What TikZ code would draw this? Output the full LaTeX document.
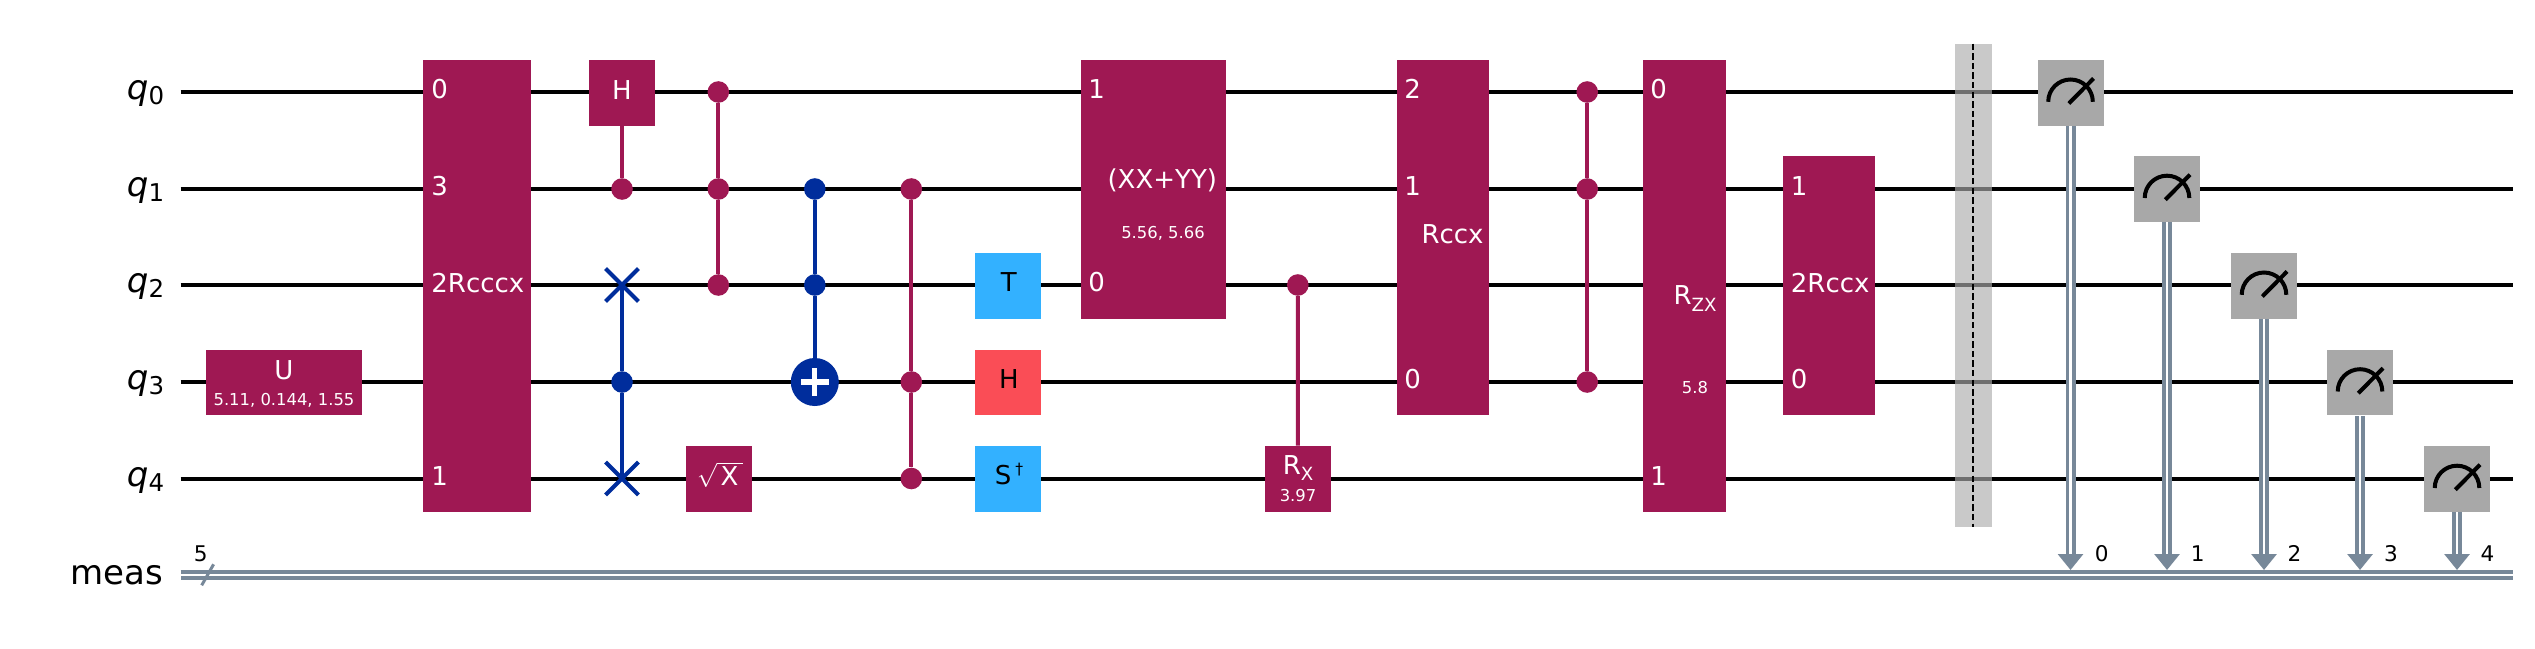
\documentclass[tikz,border=0pt]{standalone}
\usepackage{fontspec}
\setmainfont{DejaVu Sans}
\usetikzlibrary{arrows.meta,shapes.misc}
\definecolor{gatepurple}{HTML}{9F1853}
\definecolor{gateblue}{HTML}{33B1FF}
\definecolor{gatered}{HTML}{FA4D56}
\definecolor{ctrlblue}{HTML}{002D9C}
\definecolor{metergray}{HTML}{A8A8A8}
\definecolor{barriergray}{HTML}{ACACAC}
\definecolor{cregslate}{HTML}{778899}
\tikzset{
  qwire/.style={draw=black, line width=2pt},
  cwire/.style={draw=cregslate, line width=1.9pt, double=white, double distance=1.2pt},
  cslash/.style={draw=cregslate, line width=1.5pt},
  marrow/.style={cwire, -{Triangle[length=8pt,width=12.4pt]}},
  wirelabel/.style={anchor=base east, inner sep=0pt, font=\fontsize{17}{19}\selectfont},
  gate/.style={fill=gatepurple, text=white, inner sep=0pt, font=\fontsize{13}{15}\selectfont},
  onegate/.style={gate, minimum width=33pt, minimum height=32.9pt},
  clifford/.style={onegate, fill=gateblue, text=black},
  redgate/.style={onegate, fill=gatered, text=black},
  gatetext/.style={inner sep=0pt, text=white, font=\fontsize{13}{15}\selectfont},
  paramtext/.style={inner sep=0pt, text=white, font=\fontsize{8.2}{10}\selectfont},
  darktext/.style={inner sep=0pt, font=\fontsize{13}{15}\selectfont},
  pin/.style={gatetext, anchor=west},
  cdot/.style={circle, fill=gatepurple, inner sep=0pt, minimum size=10.8pt},
  bdot/.style={cdot, fill=ctrlblue},
  clink/.style={draw=gatepurple, line width=2pt},
  blink/.style={draw=ctrlblue, line width=2pt},
  target/.style={circle, fill=ctrlblue, inner sep=0pt, minimum size=24pt},
  plusbar/.style={draw=white, line width=2.6pt},
  swapx/.style={cross out, draw=ctrlblue, line width=2pt, inner sep=0pt, minimum size=14.4pt},
  meterbox/.style={fill=metergray, inner sep=0pt, minimum width=33pt, minimum height=32.9pt},
  needle/.style={draw=black, line width=2pt},
  barrierbox/.style={fill=barriergray, fill opacity=.65, inner sep=0pt, minimum width=18.4pt, minimum height=241.4pt},
  barrierline/.style={draw=black, line width=1pt, dash pattern=on 3.2pt off 1.6pt},
  smalltext/.style={inner sep=0pt, font=\fontsize{10.8}{12}\selectfont}
}
\newcommand{\qname}[2]{{\itshape #1}\raisebox{-.16em}{\scalebox{.72}{#2}}}
\newcommand{\subtext}[1]{\raisebox{-.26em}{\scalebox{.7}{#1}}}
\newcommand{\meter}[2]{
  \node[meterbox] (#1) at (#2) {};
  \draw[needle] (#1.center) ++(-22.3,9) arc[start angle=180, end angle=360, radius=22.3];
  \draw[needle] (#1.center) ++(-1.7,10.7) -- ++(24.7,-25);
}
\begin{document}
\begin{tikzpicture}[x=.5pt, y=-.5pt]
  \useasboundingbox (0,0) rectangle (2535,648);
  % wires
  \node[wirelabel] (lq0) at (164.5,99.5) {\qname{q}{0}};
  \node[wirelabel] (lq1) at (164.5,196.5) {\qname{q}{1}};
  \node[wirelabel] (lq2) at (164.5,292.5) {\qname{q}{2}};
  \node[wirelabel] (lq3) at (164.5,389.5) {\qname{q}{3}};
  \node[wirelabel] (lq4) at (164.5,486) {\qname{q}{4}};
  \node[wirelabel] (lmeas) at (163.4,584.5) {meas};
  \coordinate (q0a) at (180.5,92);   \coordinate (q0b) at (2512.8,92);
  \coordinate (q1a) at (180.5,189);  \coordinate (q1b) at (2512.8,189);
  \coordinate (q2a) at (180.5,285);  \coordinate (q2b) at (2512.8,285);
  \coordinate (q3a) at (180.5,382);  \coordinate (q3b) at (2512.8,382);
  \coordinate (q4a) at (180.5,478.5); \coordinate (q4b) at (2512.8,478.5);
  \coordinate (ma) at (180.5,575);   \coordinate (mb) at (2512.8,575);
  \draw[qwire] (q0a) -- (q0b);
  \draw[qwire] (q1a) -- (q1b);
  \draw[qwire] (q2a) -- (q2b);
  \draw[qwire] (q3a) -- (q3b);
  \draw[qwire] (q4a) -- (q4b);
  \draw[cwire] (ma) -- (mb);
  \coordinate (sa) at (201.7,585.3);
  \coordinate (sb) at (213.6,564.3);
  \draw[cslash] (sa) -- (sb);
  \node[smalltext] (nbits) at (200.8,553.8) {5};
  % first gates
  \node[gate, minimum width=78pt, minimum height=32.5pt] (u) at (284,382.5) {};
  \node[gatetext] (utxt) at (284,370) {U};
  \node[paramtext] (upar) at (284,400.6) {5.11, 0.144, 1.55};
  \node[gate, minimum width=54.2pt, minimum height=226pt] (rcccx) at (477,286) {};
  \node[pin] (rcccx0) at (431,89) {0};
  \node[pin] (rcccx3) at (431,186.4) {3};
  \node[pin] (rcccxn) at (431,282.9) {2Rcccx};
  \node[pin] (rcccx1) at (431,476.4) {1};
  \node[onegate] (h0) at (622,92.8) {};
  \node[gatetext] (h0txt) at (622,89.6) {H};
  \node[cdot] (h0c) at (622,189) {};
  \draw[clink] (h0) -- (h0c);
  \node[swapx] (sw2) at (622,285) {};
  \node[bdot] (sw3) at (622,382) {};
  \node[swapx] (sw4) at (622,478.5) {};
  \draw[blink] (sw2.center) -- (sw3);
  \draw[blink] (sw3) -- (sw4.center);
  \node[cdot] (cz0) at (718.3,92) {};
  \node[cdot] (cz1) at (718.3,189) {};
  \node[cdot] (cz2) at (718.3,285) {};
  \draw[clink] (cz0) -- (cz1);
  \draw[clink] (cz1) -- (cz2);
  \node[onegate] (sx) at (718.8,479) {};
  \node[gatetext] (sxtxt) at (720.3,475) {$\sqrt{\kern1.7pt\mbox{X}\kern2.5pt}$};
  \node[bdot] (cx1) at (814.8,189) {};
  \node[bdot] (cx2) at (814.8,285) {};
  \node[target] (cx3) at (814.8,382) {};
  \draw[blink] (cx1) -- (cx2);
  \draw[blink] (cx2) -- (cx3);
  \draw[plusbar] (cx3.center) +(-14,0) -- +(14,0);
  \draw[plusbar] (cx3.center) +(0,-14) -- +(0,14);
  \node[cdot] (ccz1) at (911.3,189) {};
  \node[cdot] (ccz3) at (911.3,382) {};
  \node[cdot] (ccz4) at (911.3,478.5) {};
  \draw[clink] (ccz1) -- (ccz3);
  \draw[clink] (ccz3) -- (ccz4);
  % clifford column
  \node[clifford] (tg) at (1008.3,285.8) {};
  \node[darktext] (tgtxt) at (1008.8,282.5) {T};
  \node[redgate] (hr) at (1008.3,382.5) {};
  \node[darktext] (hrtxt) at (1008.8,379.3) {H};
  \node[clifford] (sd) at (1008.3,479) {};
  \node[darktext] (sdtxt) at (1009,474) {S\kern2pt\raisebox{.42em}{\scalebox{.6}{†}}};
  % two qubit blocks
  \node[gate, minimum width=72.65pt, minimum height=129.3pt] (xy) at (1153.5,189.3) {};
  \node[pin] (xy1) at (1088,89) {1};
  \node[pin] (xy0) at (1088,282.5) {0};
  \node[gatetext] (xytxt) at (1162.3,180.7) {(XX+YY)};
  \node[paramtext] (xypar) at (1163,233.5) {5.56, 5.66};
  \node[cdot] (rxc) at (1297.8,285) {};
  \node[onegate] (rx) at (1298,479) {};
  \draw[clink] (rxc) -- (rx);
  \node[gatetext] (rxtxt) at (1298,468) {R\subtext{X}};
  \node[paramtext] (rxpar) at (1298,496) {3.97};
  \node[gate, minimum width=46pt, minimum height=177.5pt] (rccx) at (1443,237.5) {};
  \node[pin] (rccx2) at (1404,89) {2};
  \node[pin] (rccx1) at (1404,186.4) {1};
  \node[pin] (rccx0) at (1404,379.3) {0};
  \node[gatetext] (rccxtxt) at (1452.5,234.6) {Rccx};
  \node[cdot] (ccy0) at (1587.2,92) {};
  \node[cdot] (ccy1) at (1587.2,189) {};
  \node[cdot] (ccy3) at (1587.2,382) {};
  \draw[clink] (ccy0) -- (ccy1);
  \draw[clink] (ccy1) -- (ccy3);
  \node[gate, minimum width=41.6pt, minimum height=226pt] (rzx) at (1684.6,286) {};
  \node[pin] (rzx0) at (1650,89) {0};
  \node[pin] (rzx1) at (1650,476.4) {1};
  \node[gatetext] (rzxtxt) at (1695,298.5) {R\subtext{ZX}};
  \node[paramtext] (rzxpar) at (1695,387.7) {5.8};
  \node[gate, minimum width=45.8pt, minimum height=129.5pt] (rccb) at (1828.9,285.5) {};
  \node[pin] (rccb1) at (1790.5,186.4) {1};
  \node[pin] (rccbn) at (1790.5,283.3) {2Rccx};
  \node[pin] (rccb0) at (1790.5,379.3) {0};
  % barrier
  \node[barrierbox] (bar) at (1973.4,285.4) {};
  \draw[barrierline] (bar.north) -- (bar.south);
  % measures
  \meter{m0}{2070.5,92.8}
  \meter{m1}{2167,189}
  \meter{m2}{2264,285.8}
  \meter{m3}{2360,382.5}
  \meter{m4}{2457,479}
  \coordinate (t0) at (2070.5,570);
  \coordinate (t1) at (2167,570);
  \coordinate (t2) at (2264,570);
  \coordinate (t3) at (2360,570);
  \coordinate (t4) at (2457,570);
  \draw[marrow] (m0) -- (t0);
  \draw[marrow] (m1) -- (t1);
  \draw[marrow] (m2) -- (t2);
  \draw[marrow] (m3) -- (t3);
  \draw[marrow] (m4) -- (t4);
  \node[smalltext] (b0) at (2101.7,553.3) {0};
  \node[smalltext] (b1) at (2197.7,553.3) {1};
  \node[smalltext] (b2) at (2294.5,553.3) {2};
  \node[smalltext] (b3) at (2391,553.3) {3};
  \node[smalltext] (b4) at (2487.5,553.3) {4};
\end{tikzpicture}
\end{document}
